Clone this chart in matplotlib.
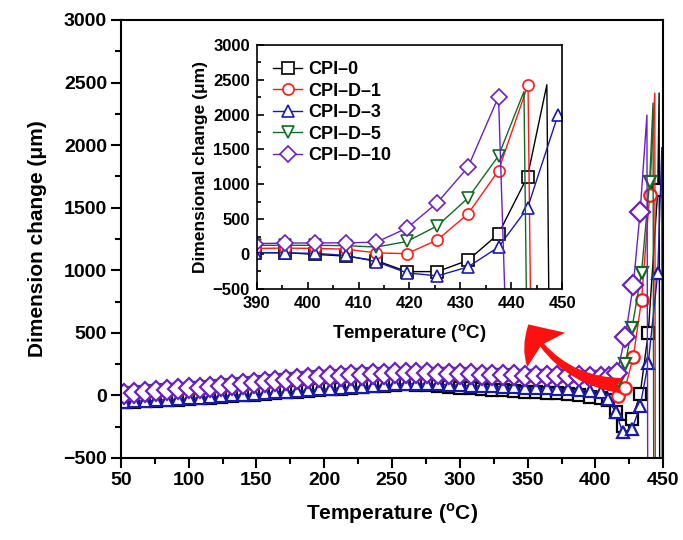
import matplotlib
matplotlib.use("Agg")
import matplotlib.pyplot as plt
from matplotlib.patches import FancyArrowPatch
from matplotlib.ticker import MultipleLocator

plt.rcParams['font.family'] = ['Liberation Sans', 'DejaVu Sans']
plt.rcParams['font.weight'] = 'bold'
plt.rcParams['mathtext.fontset'] = 'custom'
plt.rcParams['mathtext.rm'] = 'Liberation Sans:bold'
plt.rcParams['mathtext.bf'] = 'Liberation Sans:bold'

labels = ["CPI–0", "CPI–D–1", "CPI–D–3", "CPI–D–5", "CPI–D–10"]
colors = ["#000000", "#ff1a1a", "#1a1aaa", "#116b22", "#6a1fc8"]
markers = ["s", "o", "^", "v", "D"]
main_ms = [8, 9, 9, 9, 10.5]

# main plot: common part up to ~404 C
t_base = [52, 60, 68, 76, 84, 92, 100, 108, 116, 124, 132, 140, 148, 156, 164,
          172, 180, 188, 196, 204, 212, 220, 228, 236, 244, 252, 260, 268, 276,
          284, 292, 300, 308, 316, 324, 332, 340, 348, 356, 364, 372, 380, 388,
          396, 404]
base_0 = [-55, -52, -48, -44, -40, -35, -30, -24, -18, -12, -6, 0, 6, 12, 18, 24,
          30, 36, 42, 48, 54, 60, 66, 72, 78, 84, 88, 86, 82, 76, 70, 62, 56, 50,
          45, 40, 35, 30, 25, 20, 15, 8, 0, -10, -25]
base_1 = [4, 12, 19, 26, 33, 40, 47, 54, 62, 70, 78, 86, 94, 102, 110, 118, 125,
          132, 138, 144, 149, 154, 158, 162, 165, 167, 168, 168, 167, 165, 163,
          161, 159, 157, 155, 153, 152, 150, 149, 148, 147, 145, 144, 142, 140]
base_3 = [-50, -47, -43, -39, -35, -30, -25, -19, -13, -7, -1, 5, 11, 17, 23, 29,
          35, 41, 47, 53, 59, 65, 70, 76, 82, 88, 92, 92, 90, 87, 84, 80, 77, 74,
          71, 68, 65, 62, 59, 56, 52, 47, 42, 35, 25]
base_5 = [10, 18, 25, 32, 39, 46, 53, 60, 68, 76, 84, 92, 100, 108, 116, 124, 131,
          138, 144, 150, 155, 160, 164, 168, 171, 173, 174, 174, 173, 171, 169,
          167, 165, 163, 161, 159, 158, 156, 155, 154, 153, 151, 150, 148, 146]
base_10 = [12, 20, 27, 34, 41, 48, 55, 62, 70, 78, 86, 94, 102, 110, 118, 126, 133,
           140, 146, 152, 157, 162, 166, 170, 173, 175, 176, 176, 175, 173, 171,
           169, 167, 165, 163, 161, 160, 158, 157, 156, 155, 153, 152, 150, 148]

# main plot: tails (last two points = spike top and drop, no markers)
tail_t_0 = [409, 415, 420, 427, 433, 439, 446, 447, 447.4]
tail_v_0 = [-35, -135, -245, -190, 10, 500, 1640, 2416, -700]
tail_t_1 = [410, 417, 422, 428, 434, 440, 443.8, 444.2]
tail_v_1 = [100, -5, 60, 310, 760, 1600, 2416, -700]
tail_t_3 = [409, 415, 420, 427, 433, 439, 446, 449, 449.3]
tail_v_3 = [-30, -135, -290, -270, -85, 260, 980, 1980, -700]
tail_t_5 = [410, 417, 422, 427, 434, 440, 442.5, 443]
tail_v_5 = [135, 110, 250, 540, 980, 1706, 2336, -700]
tail_t_10 = [410, 416, 422, 428, 433, 438, 438.6]
tail_v_10 = [150, 180, 470, 885, 1467, 2240, -700]

# inset
t_in = [389.6, 395.5, 401.5, 407.5, 413.5, 419.5, 425.5, 431.5, 437.5]
in_0 = [20, 20, -5, -30, -95, -252, -252, -90, 289]
in_1 = [80, 85, 80, 70, 16, 5, 203, 576, 1197]
in_3 = [20, 15, 10, -20, -110, -270, -313, -185, 100]
in_5 = [125, 125, 125, 120, 100, 180, 405, 803, 1408]
in_10 = [150, 156, 160, 160, 170, 371, 738, 1245, 2255]
in_tail_t_0 = [443.2, 447, 447.4]
in_tail_v_0 = [1111, 2427, -700]
in_tail_t_1 = [443.3, 443.8]
in_tail_v_1 = [2427, -700]
in_tail_t_3 = [443.2, 449.2]
in_tail_v_3 = [660, 1996]
in_tail_t_5 = [442.5, 443]
in_tail_v_5 = [2330, -700]
in_tail_t_10 = [438.8]
in_tail_v_10 = [-700]
in_nomark = [2, 1, 0, 2, 1]

bases = [base_0, base_1, base_3, base_5, base_10]
tails_t = [tail_t_0, tail_t_1, tail_t_3, tail_t_5, tail_t_10]
tails_v = [tail_v_0, tail_v_1, tail_v_3, tail_v_5, tail_v_10]
ins = [in_0, in_1, in_3, in_5, in_10]
in_tails_t = [in_tail_t_0, in_tail_t_1, in_tail_t_3, in_tail_t_5, in_tail_t_10]
in_tails_v = [in_tail_v_0, in_tail_v_1, in_tail_v_3, in_tail_v_5, in_tail_v_10]

fig = plt.figure(figsize=(6.83, 5.40), dpi=100)
ax = fig.add_axes([0.177, 0.152, 0.794, 0.811])

for i in range(5):
    x = t_base + tails_t[i]
    y = bases[i] + tails_v[i]
    ax.plot(x, y, color=colors[i], lw=1.0, marker=markers[i], ms=main_ms[i],
            mfc="white", mec=colors[i], mew=1.6,
            markevery=list(range(len(x) - 2)))

ax.set_xlim(50, 450)
ax.set_ylim(-500, 3000)
ax.xaxis.set_major_locator(MultipleLocator(50))
ax.xaxis.set_minor_locator(MultipleLocator(25))
ax.yaxis.set_major_locator(MultipleLocator(500))
ax.yaxis.set_minor_locator(MultipleLocator(250))
ax.tick_params(which="both", direction="out", width=1.5, labelsize=14)
ax.tick_params(which="major", length=7, pad=3)
ax.tick_params(which="minor", length=4)
for s in ax.spines.values():
    s.set_linewidth(1.5)
ax.set_xlabel(r"Temperature ($^{\mathbf{o}}$C)", fontsize=15, fontweight="bold", labelpad=9)
ax.set_ylabel("Dimension change (μm)", fontsize=15, fontweight="bold", labelpad=12)

# inset
axin = fig.add_axes([0.376, 0.465, 0.447, 0.452])
for i in range(5):
    x = t_in + in_tails_t[i]
    y = ins[i] + in_tails_v[i]
    n = len(x) - in_nomark[i]
    axin.plot(x, y, color=colors[i], lw=1.0, marker=markers[i], ms=8,
              mfc="white", mec=colors[i], mew=1.2,
              markevery=list(range(n)), label=labels[i])

axin.set_xlim(390, 450)
axin.set_ylim(-500, 3000)
axin.xaxis.set_major_locator(MultipleLocator(10))
axin.xaxis.set_minor_locator(MultipleLocator(5))
axin.yaxis.set_major_locator(MultipleLocator(500))
axin.yaxis.set_minor_locator(MultipleLocator(250))
axin.tick_params(which="both", direction="in", width=1.2, labelsize=12)
axin.tick_params(which="major", length=5, pad=5)
axin.tick_params(which="minor", length=3)
for s in axin.spines.values():
    s.set_linewidth(1.2)
axin.set_xlabel(r"Temperature ($^{\mathbf{o}}$C)", fontsize=13.5, fontweight="bold", labelpad=8)
axin.set_ylabel("Dimensional change (μm)", fontsize=12.5, fontweight="bold", labelpad=3)
axin.legend(loc="upper left", frameon=False, handlelength=1.6,
            handletextpad=0.35, labelspacing=0.25, borderaxespad=0.5,
            prop={"weight": "bold", "size": 13})

# red curved arrow pointing to the inset
arrow = FancyArrowPatch((625 / 683, 1 - 386 / 540), (527 / 683, 1 - 322 / 540),
                        transform=fig.transFigure,
                        connectionstyle="arc3,rad=-0.28",
                        arrowstyle="fancy,head_length=1.4,head_width=2.3,tail_width=0.7",
                        mutation_scale=16, color="#ff1010", lw=0)
fig.patches.append(arrow)

fig.savefig("out.png", dpi=100)
